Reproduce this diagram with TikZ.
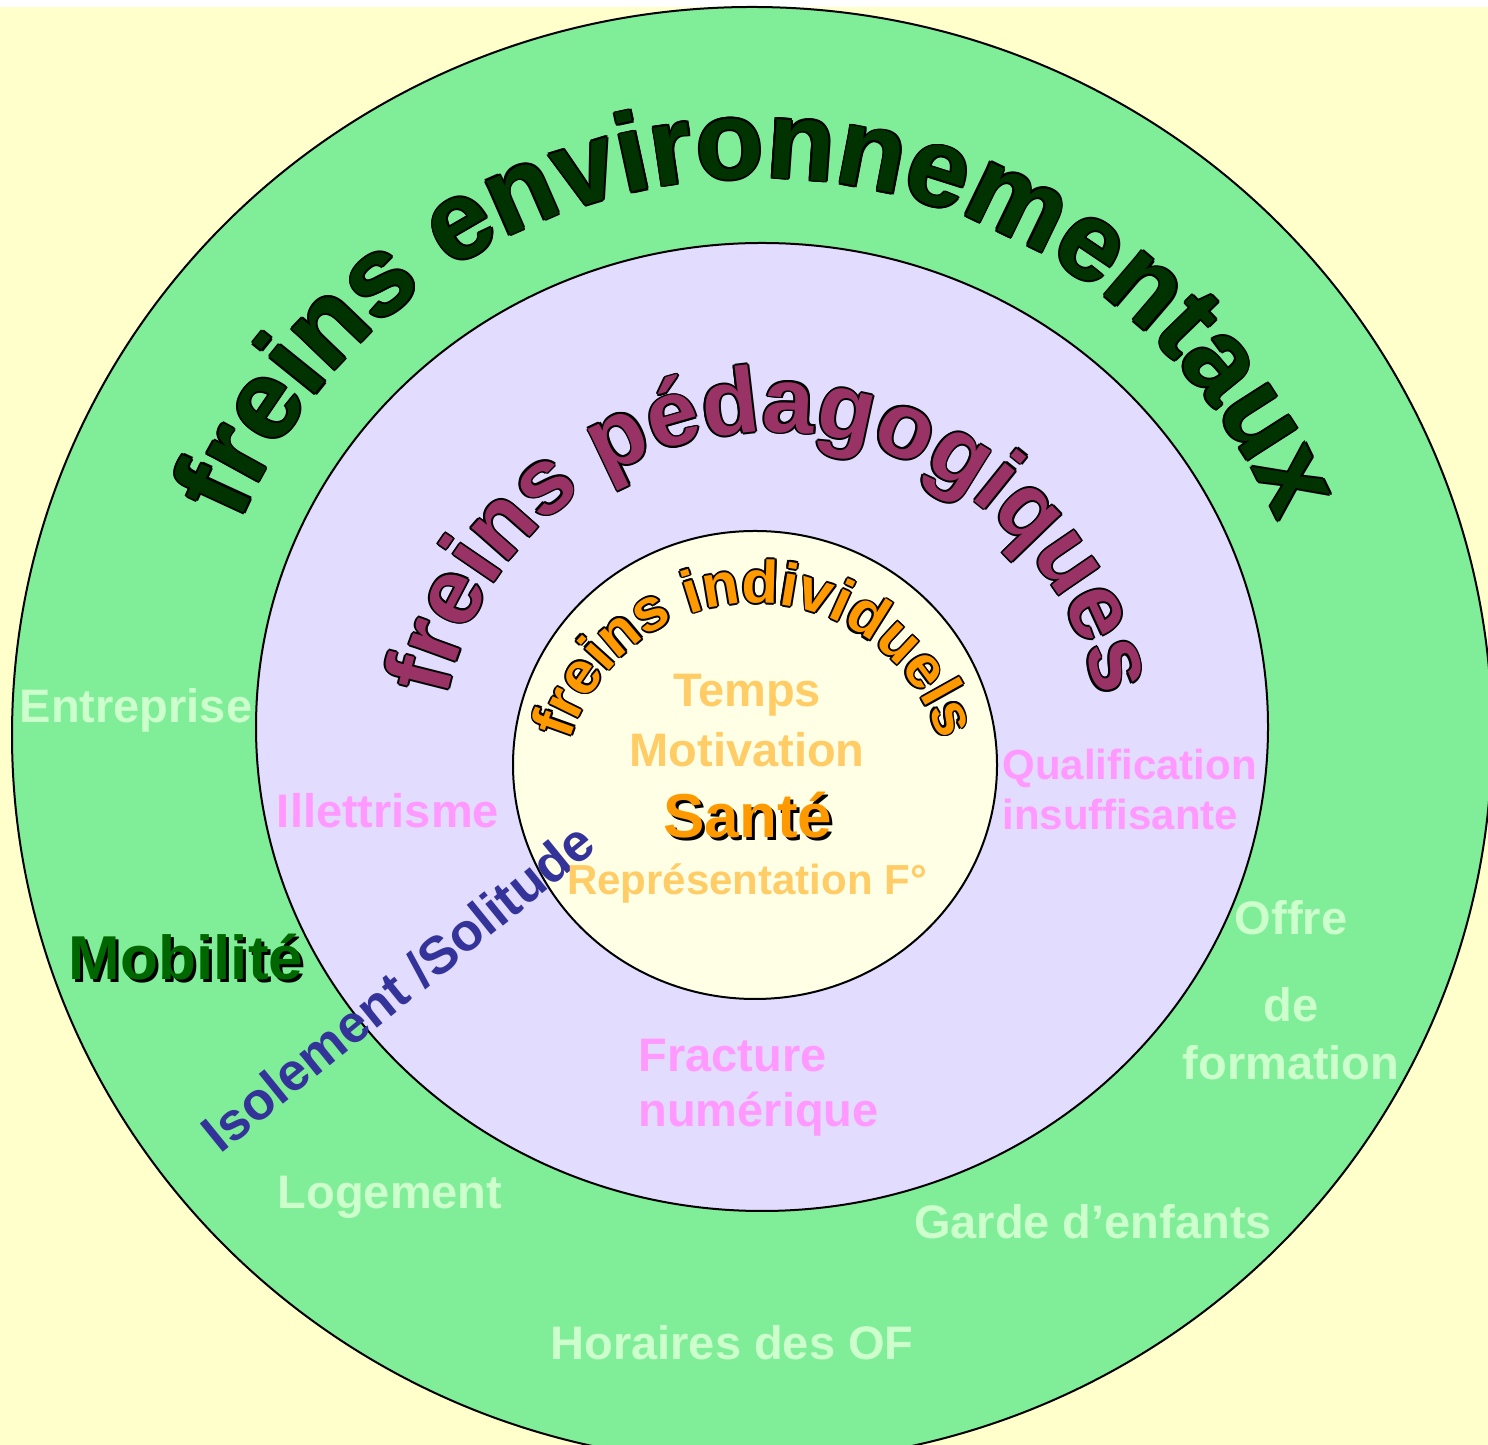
\documentclass[tikz,border=0pt]{standalone}
\usepackage{fontspec}
\setmainfont{Liberation Sans}
\usetikzlibrary{decorations.text}

\definecolor{fond}{HTML}{FFFFCC}
\definecolor{vertanneau}{HTML}{80EE98}
\definecolor{lavande}{HTML}{E2DCFF}
\definecolor{ivoire}{HTML}{FFFFE6}
\definecolor{vertfonce}{HTML}{003300}
\definecolor{vertmob}{HTML}{006600}
\definecolor{vertpale}{HTML}{CCFFCC}
\definecolor{prune}{HTML}{993366}
\definecolor{orangevif}{HTML}{FF9900}
\definecolor{orangeclair}{HTML}{FFCC66}
\definecolor{rose}{HTML}{FF99FF}
\definecolor{marine}{HTML}{333399}

\begin{document}
\begin{tikzpicture}[x=0.5pt, y=0.5pt,
    anneau/.style={draw=black, line width=1pt},
    etiquette/.style={font=\bfseries\fontsize{23.5}{28}\selectfont, inner sep=0pt, anchor=base},
    titreenv/.style={decorate, decoration={text along path, text align=center, text color=#1,
        text={|\fontsize{55.5}{60}\selectfont\bfseries|freins environnementaux}}},
    titreped/.style={decorate, decoration={text along path, text align=center, text color=#1,
        text={|\fontsize{46.5}{50}\selectfont\bfseries|freins pédagogiques}}},
    titreind/.style={decorate, decoration={text along path, text align=center, text color=#1,
        text={|\fontsize{30}{34}\selectfont\bfseries|freins individuels}}}]
  \useasboundingbox (0,0) rectangle (1488,1445);
  \fill[white] (0,0) rectangle (1488,1445);
  \fill[fond] (0,0) rectangle (1488,1438);

  % les trois anneaux
  \begin{scope}
    \clip (0,0) rectangle (1488,1445);
    \path[anneau, fill=vertanneau] (752,710) ellipse [x radius=740, y radius=728];
    \path[anneau, fill=lavande] (762,718) ellipse [x radius=506, y radius=484];
    \path[anneau, fill=ivoire] (755,680) ellipse [x radius=242, y radius=234];
  \end{scope}

  % titres en arc, contour noir
  \foreach \dx/\dy in {-0.9pt/0pt, 0.9pt/0pt, 0pt/-0.9pt, 0pt/0.9pt, -0.65pt/-0.65pt, 0.65pt/0.65pt, -0.65pt/0.65pt, 0.65pt/-0.65pt}{
    \path[titreenv=black, xshift=\dx, yshift=\dy] (759,704) ++(178:563) arc[start angle=178, end angle=2, radius=563];
    \path[titreped=black, xshift=\dx, yshift=\dy] (772,681) ++(178:332) arc[start angle=178, end angle=2, radius=332];
    \path[titreind=black, xshift=\dx, yshift=\dy] (755,649) ++(178:193) arc[start angle=178, end angle=2, radius=193];
  }
  \path[titreenv=vertfonce] (759,704) ++(178:563) arc[start angle=178, end angle=2, radius=563];
  \path[titreped=prune] (772,681) ++(178:332) arc[start angle=178, end angle=2, radius=332];
  \path[titreind=orangevif] (755,649) ++(178:193) arc[start angle=178, end angle=2, radius=193];

  % freins environnementaux
  \node[etiquette, text=vertpale] (entreprise) at (136,722) {Entreprise};
  \node[etiquette, text=vertpale] (logement) at (390,236) {Logement};
  \node[etiquette, text=vertpale] (garde) at (1093,206) {Garde d’enfants};
  \node[etiquette, text=vertpale] (horaires) at (732,85) {Horaires des OF};
  \node[etiquette, text=vertpale] (offre) at (1291,510) {Offre};
  \node[etiquette, text=vertpale] (de) at (1291,423) {de};
  \node[etiquette, text=vertpale] (formation) at (1291,365) {formation};
  \node[etiquette, text=black, font=\bfseries\fontsize{31}{34}\selectfont] (mobiliteombre) at (189,462) {Mobilité};
  \node[etiquette, text=vertmob, font=\bfseries\fontsize{31}{34}\selectfont] (mobilite) at (186,465) {Mobilité};

  % freins pedagogiques
  \node[etiquette, text=rose] (illettrisme) at (388,617) {Illettrisme};
  \node[etiquette, text=rose, anchor=base west, font=\bfseries\fontsize{21}{24}\selectfont] (qualif) at (1002,665) {Qualification};
  \node[etiquette, text=rose, anchor=base west, font=\bfseries\fontsize{21}{24}\selectfont] (insuff) at (1002,615) {insuffisante};
  \node[etiquette, text=rose, anchor=base west] (fracture) at (638,373) {Fracture};
  \node[etiquette, text=rose, anchor=base west] (numerique) at (638,318) {numérique};
  \node[etiquette, text=marine, anchor=center, rotate=39, font=\bfseries\fontsize{26.5}{30}\selectfont] (isolement) at (398,458) {Isolement /Solitude};

  % freins individuels
  \node[etiquette, text=orangeclair] (temps) at (747,738) {Temps};
  \node[etiquette, text=orangeclair] (motivation) at (747,678) {Motivation};
  \node[etiquette, text=black, font=\bfseries\fontsize{31}{34}\selectfont] (santeombre) at (751,604) {Santé};
  \node[etiquette, text=orangevif, font=\bfseries\fontsize{31}{34}\selectfont] (sante) at (748,607) {Santé};
  \node[etiquette, text=orangeclair, font=\bfseries\fontsize{21}{24}\selectfont] (representation) at (747,550) {Représentation F°};
\end{tikzpicture}
\end{document}
